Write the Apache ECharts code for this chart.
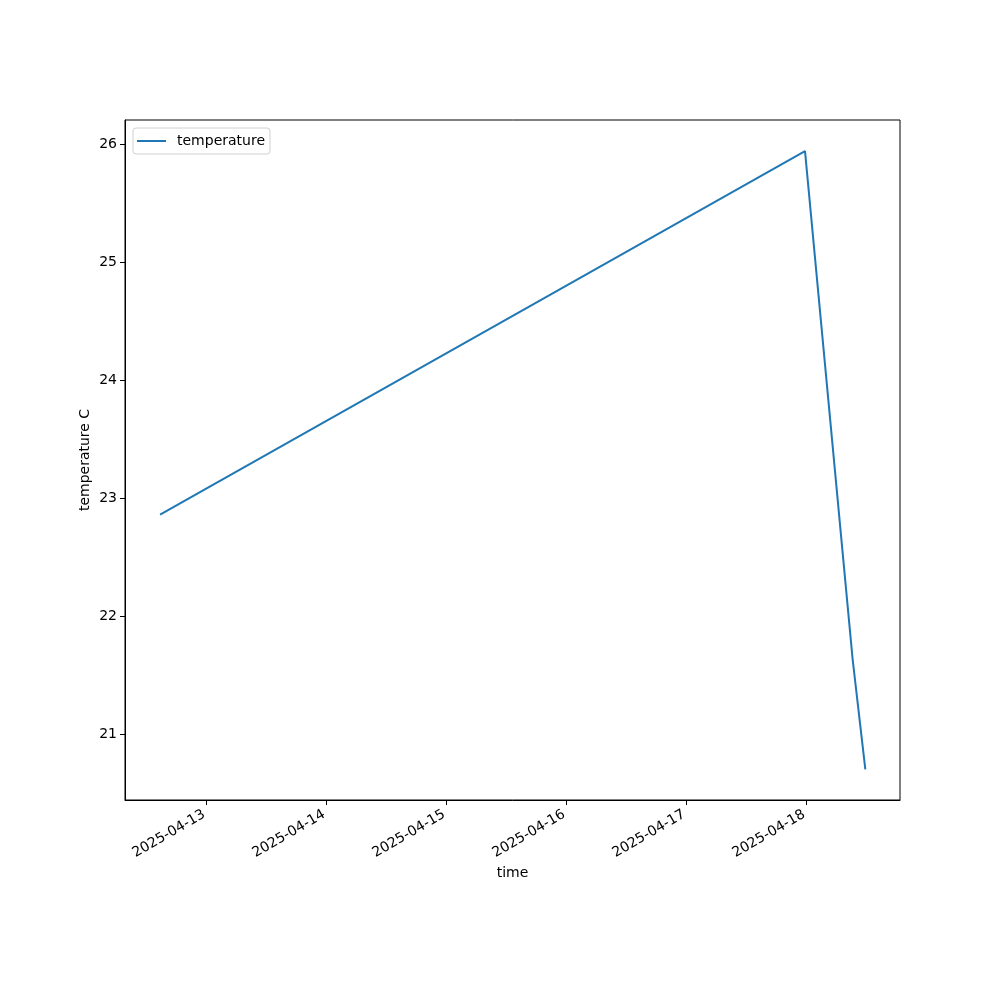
<!DOCTYPE html>
<html>
<head>
<meta charset="utf-8">
<script src="https://cdn.jsdelivr.net/npm/echarts@6/dist/echarts.min.js"></script>
<style>html,body{margin:0;padding:0;background:#fff;}#c{width:1000px;height:1000px;}</style>
</head>
<body>
<div id="c"></div>
<script>
const times = ['2025-04-12 14:40', '2025-04-17 23:40', '2025-04-18 09:12', '2025-04-18 11:44'];
const temperature = [22.86, 25.94, 21.63, 20.70];
const xTickLabels = ['2025-04-13', '2025-04-14', '2025-04-15', '2025-04-16', '2025-04-17', '2025-04-18'];
const yTickValues = [21, 22, 23, 24, 25, 26];

function parseT(s) {
  const [d, t] = s.split(' ');
  const [Y, M, D] = d.split('-').map(Number);
  const [h, m] = (t || '00:00').split(':').map(Number);
  return Date.UTC(Y, M - 1, D, h, m);
}
function fmt(v) {
  const d = new Date(v); const p = n => String(n).padStart(2, '0');
  return d.getUTCFullYear() + '-' + p(d.getUTCMonth() + 1) + '-' + p(d.getUTCDate());
}
const xTicks = xTickLabels.map(parseT);
const data = times.map((t, i) => [parseT(t), temperature[i]]);
const font = 'DejaVu Sans';

const chart = echarts.init(document.getElementById('c'), null, {renderer: 'canvas'});
chart.setOption({
  animation: false,
  backgroundColor: '#fff',
  grid: {left: 125, top: 120, right: 100, bottom: 200, show: true, borderColor: '#000', borderWidth: 1, backgroundColor: 'transparent'},
  legend: {
    left: 133, top: 128, padding: [6, 5, 6, 4],
    borderColor: '#d0d0d0', borderWidth: 1, borderRadius: 3,
    icon: 'rect', itemWidth: 29, itemHeight: 2,
    textStyle: {fontFamily: font, fontSize: 14, color: '#000', padding: [0, 0, 0, 6]},
    data: ['temperature']
  },
  xAxis: {
    type: 'value',
    min: parseT('2025-04-12 07:39'),
    max: parseT('2025-04-18 18:40'),
    name: 'time', nameLocation: 'middle', nameGap: 66, nameMoveOverlap: false,
    nameTextStyle: {fontFamily: font, fontSize: 14, color: '#000'},
    axisLine: {show: true, lineStyle: {color: '#000', width: 1}},
    axisTick: {show: true, length: 5, inside: false, lineStyle: {color: '#000'}, customValues: xTicks},
    axisLabel: {
      rotate: 30, margin: 12, fontFamily: font, fontSize: 14, color: '#000',
      padding: [0, 3, 0, 0],
      customValues: xTicks, formatter: fmt
    },
    splitLine: {show: false}
  },
  yAxis: {
    type: 'value',
    min: 20.441, max: 26.203,
    name: 'temperature C', nameLocation: 'middle', nameGap: 33, nameMoveOverlap: false,
    nameTextStyle: {fontFamily: font, fontSize: 14, color: '#000'},
    axisLine: {show: true, lineStyle: {color: '#000', width: 1}},
    axisTick: {show: true, length: 5, lineStyle: {color: '#000'}, customValues: yTickValues},
    axisLabel: {margin: 8, fontFamily: font, fontSize: 14, color: '#000', customValues: yTickValues},
    splitLine: {show: false}
  },
  series: [{
    name: 'temperature', type: 'line', data: data,
    symbol: 'none', lineStyle: {color: '#1f77b4', width: 2}, itemStyle: {color: '#1f77b4'}
  }]
});
</script>
</body>
</html>
